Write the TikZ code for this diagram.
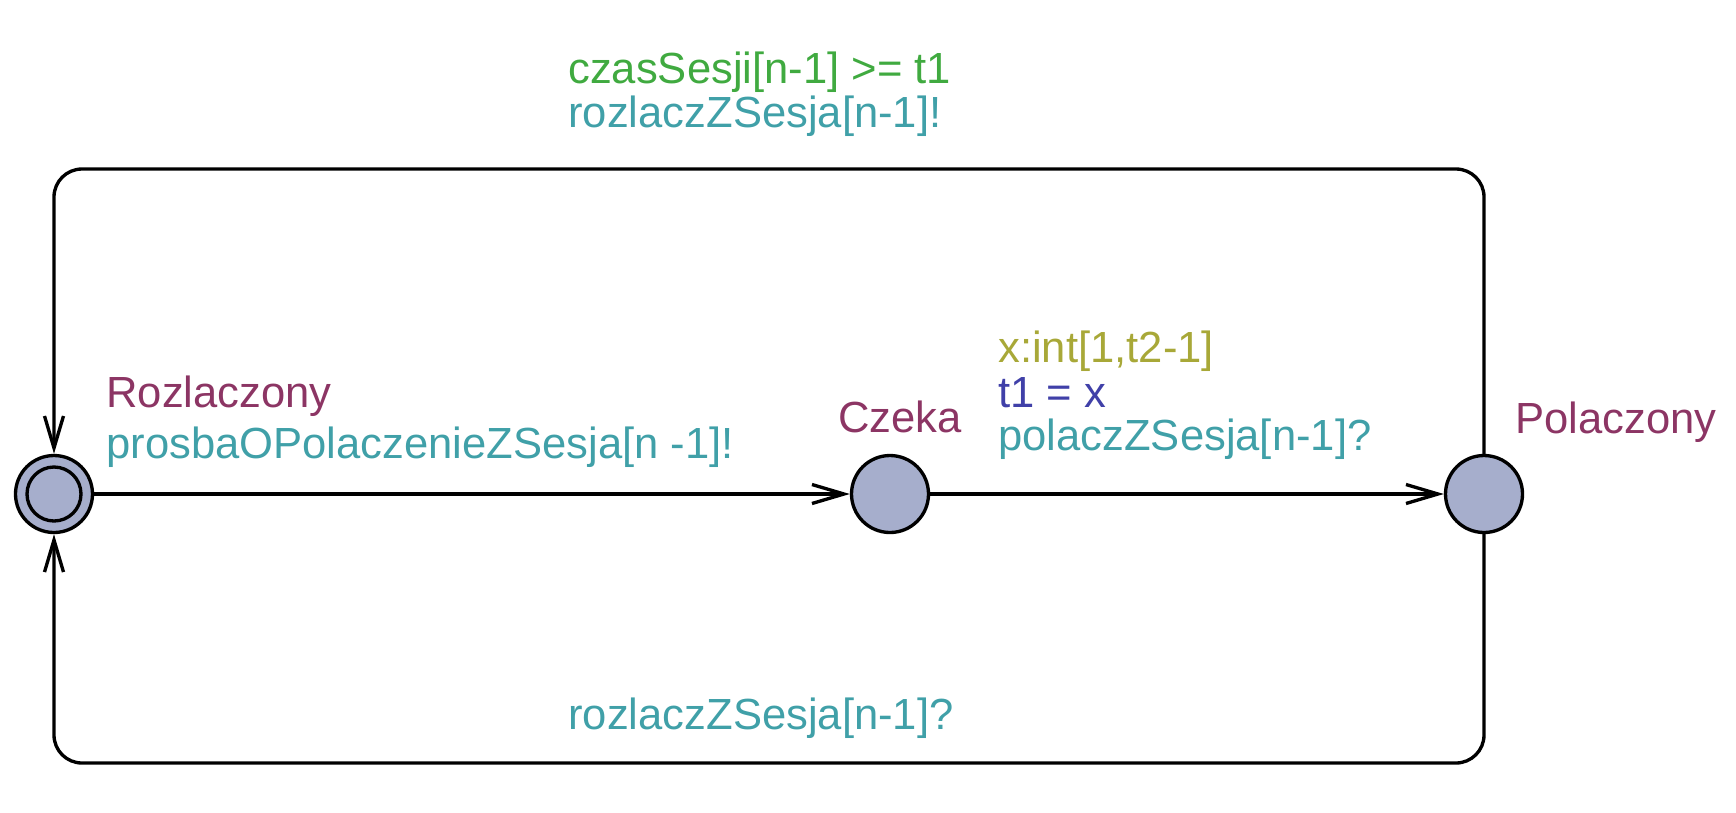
\documentclass[tikz,border=0pt]{standalone}
\usepackage{fontspec}
\setmainfont{Liberation Sans}
\usepackage{xcolor}
\usepackage{tikz}
\usetikzlibrary{arrows.meta, positioning, calc}

\definecolor{statefill}{RGB}{166,174,204}
\definecolor{namecol}{RGB}{140,53,100}
\definecolor{synccol}{RGB}{64,160,168}
\definecolor{guardcol}{RGB}{64,170,64}
\definecolor{updatecol}{RGB}{64,64,168}
\definecolor{selectcol}{RGB}{168,168,56}

\begin{document}
\begin{tikzpicture}[node distance=2cm, auto,
    font=\fontsize{24.8pt}{25pt}\selectfont,
    statestyle/.style={circle, draw, line width=1.9pt, fill=statefill, minimum size=1.54cm, inner sep=0pt},
    initstyle/.style={circle, draw, line width=1.9pt, minimum size=1.08cm, inner sep=0pt},
    edgestyle/.style={line width=1.9pt, -{Straight Barb[length=0.64cm, width=0.38cm, line width=1.9pt]}},
    lbl/.style={anchor=base west, inner sep=0pt}]

    \useasboundingbox (0,0) rectangle (34.72,-16.24);

    \node[statestyle] (roz) at (1.08,-9.88) {};
    \node[initstyle] (rozin) at (roz) {};
    \node[statestyle, right of=roz, node distance=16.72cm] (czeka) {};
    \node[statestyle, right of=czeka, node distance=11.88cm] (pol) {};

    \coordinate (topleft) at (1.08,-3.38);
    \coordinate (botleft) at (1.08,-15.26);

    \draw[edgestyle] (roz) -- (czeka);
    \draw[edgestyle] (czeka) -- (pol);
    \draw[edgestyle, rounded corners=0.56cm] (pol.north) |- (topleft) -- (roz.north);
    \draw[edgestyle, rounded corners=0.56cm] (pol.south) |- (botleft) -- (roz.south);

    % location names
    \node[lbl, text=namecol] (rozname) at (2.12,-8.14) {Rozlaczony};
    \node[lbl, text=namecol] (czekaname) at (16.76,-8.64) {Czeka};
    \node[lbl, text=namecol] (polname) at (30.3,-8.66) {Polaczony};

    % edge labels
    \node[lbl, text=synccol] (prosba) at (2.12,-9.16) {prosbaOPolaczenieZSesja[n -1]!};
    \node[lbl, text=selectcol] (sel) at (19.96,-7.24) {x:int[1,t2-1]};
    \node[lbl, text=updatecol] (upd) at (19.96,-8.14) {t1 = x};
    \node[lbl, text=synccol] (polacz) at (19.96,-9.0) {polaczZSesja[n-1]?};
    \node[lbl, text=guardcol] (guard) at (11.36,-1.66) {czasSesji[n-1] >= t1};
    \node[lbl, text=synccol] (rozlaczA) at (11.36,-2.54) {rozlaczZSesja[n-1]!};
    \node[lbl, text=synccol] (rozlaczB) at (11.36,-14.58) {rozlaczZSesja[n-1]?};
\end{tikzpicture}
\end{document}
